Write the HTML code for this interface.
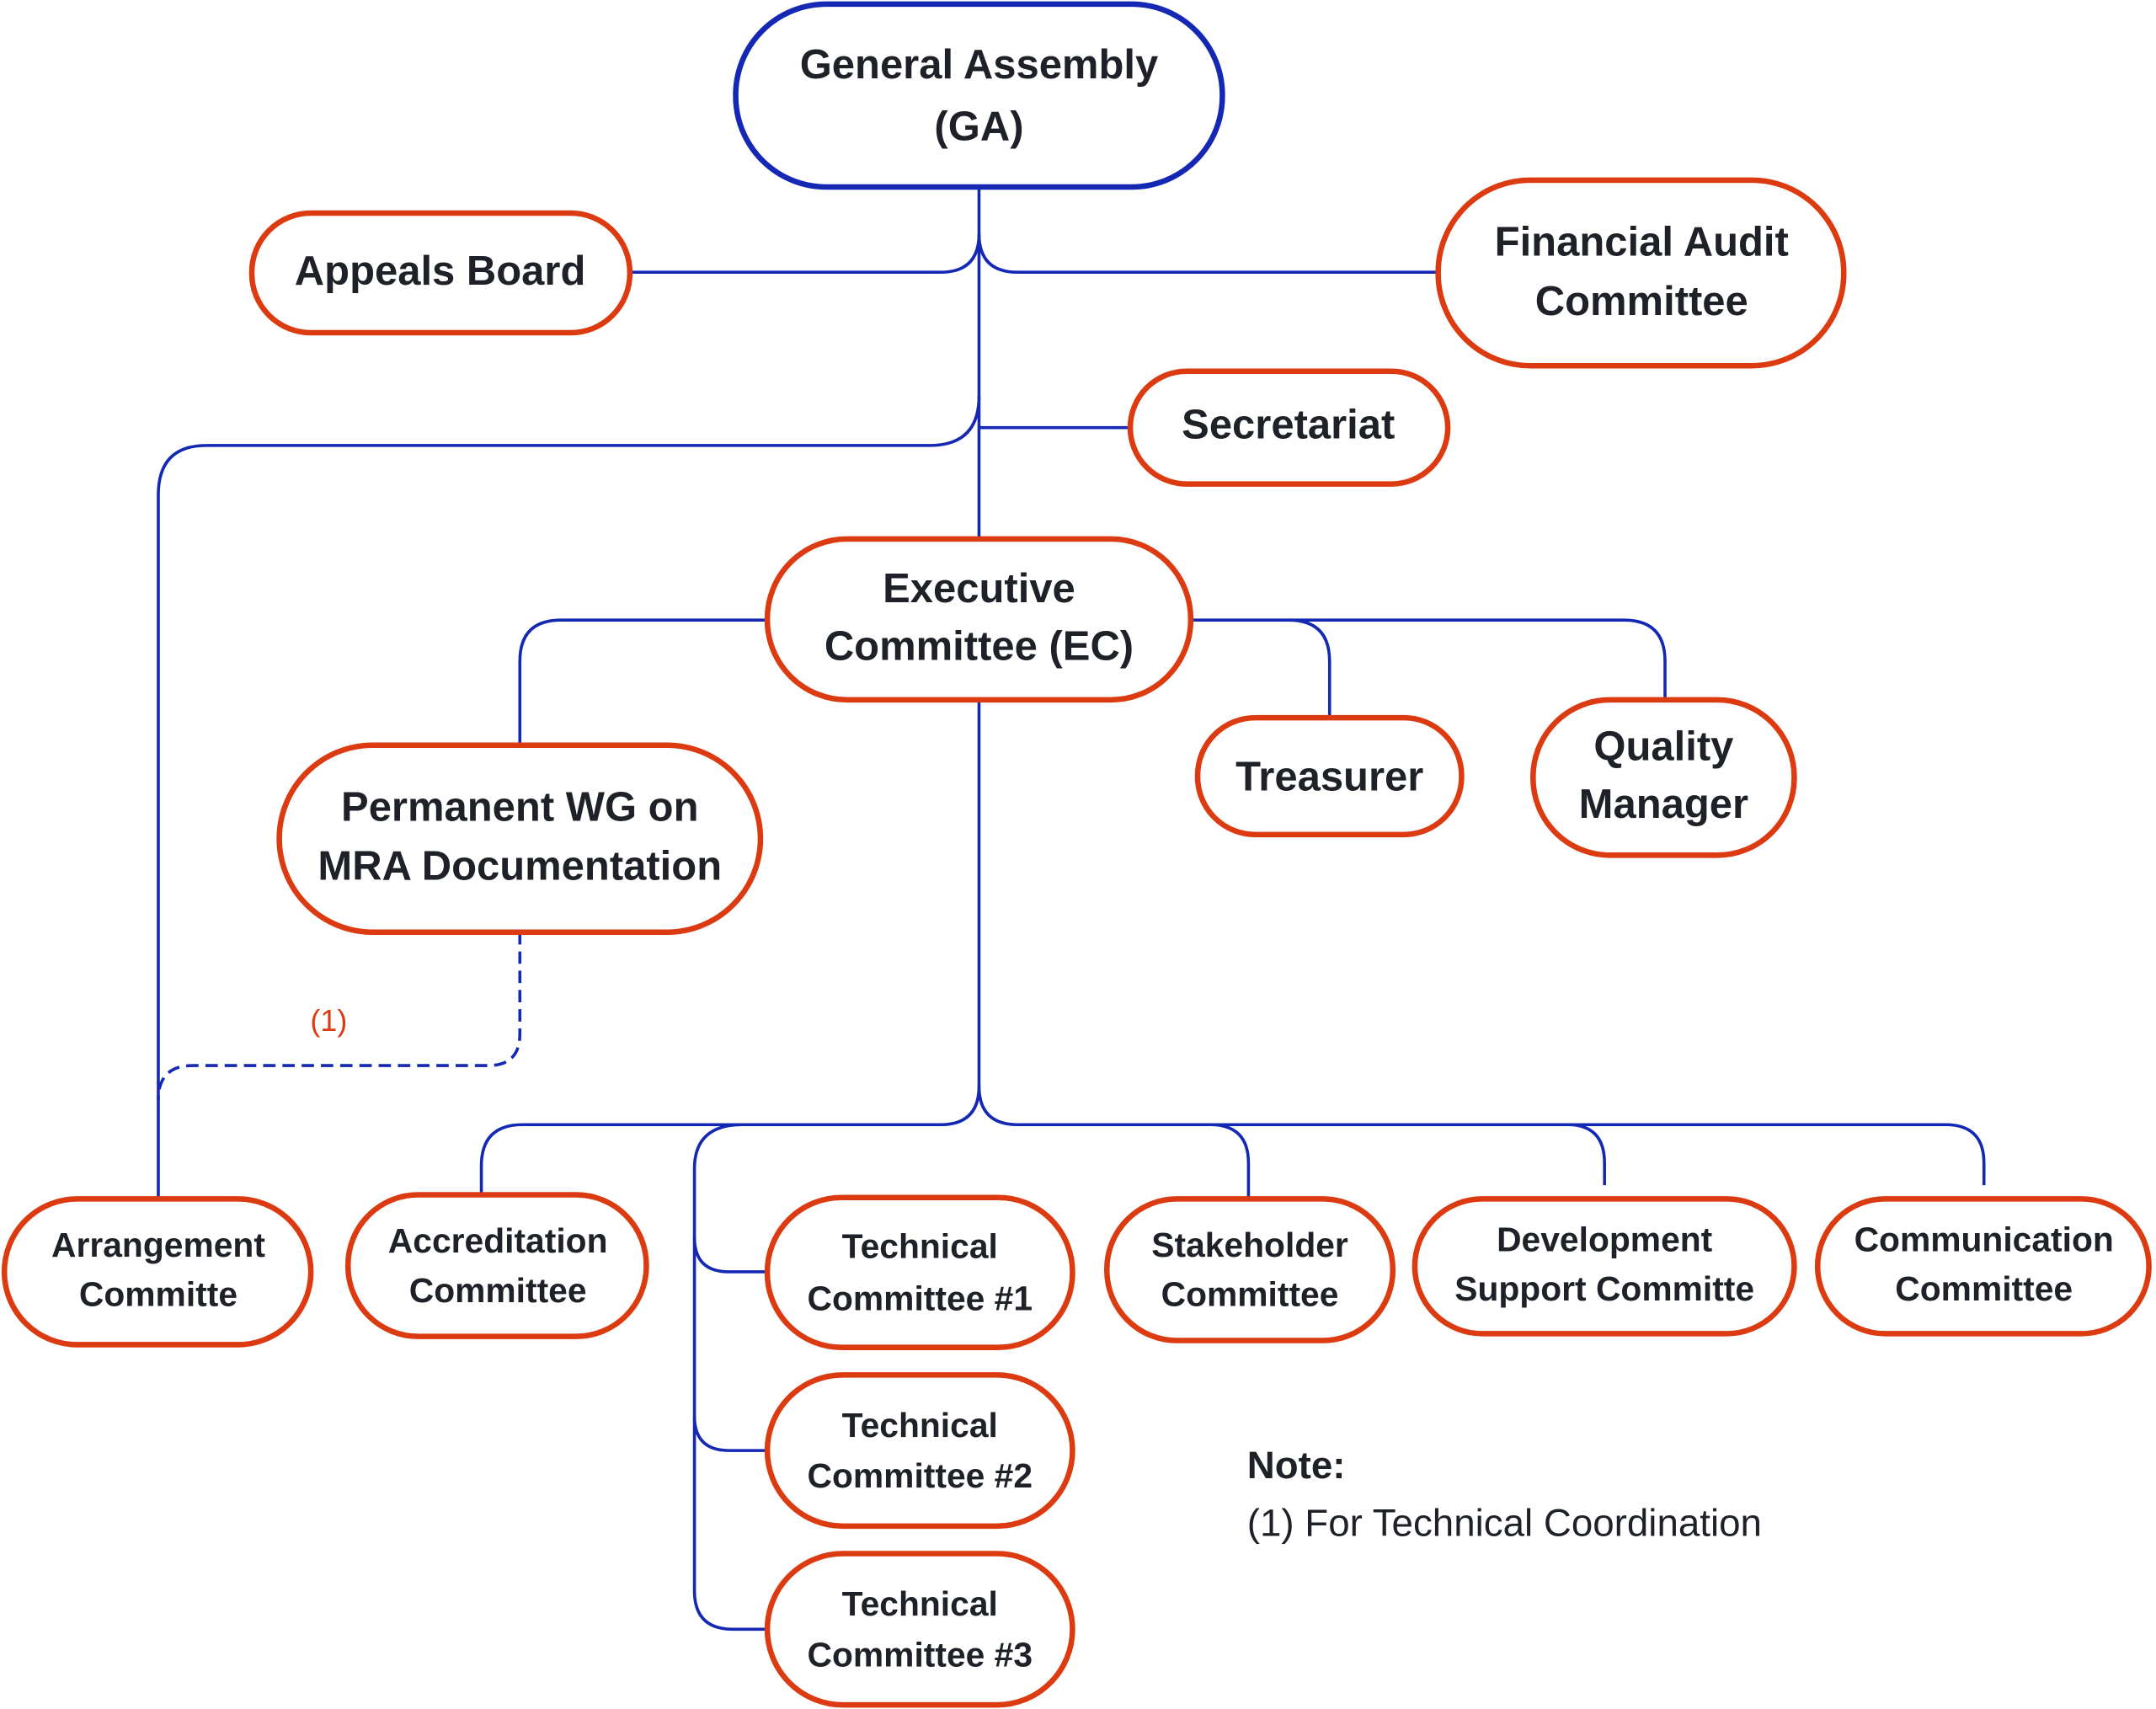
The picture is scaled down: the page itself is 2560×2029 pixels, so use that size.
<!DOCTYPE html>
<html><head><meta charset="utf-8"><style>
html,body{margin:0;padding:0;background:#fff;}
svg{display:block;}
text{font-family:"Liberation Sans",Arial,sans-serif;fill:#1e2228;text-anchor:middle;}
.b{font-weight:bold;}
</style></head><body>
<svg width="2560" height="2029" viewBox="0 0 1568 1243" xmlns="http://www.w3.org/2000/svg">
<g fill="none" stroke="#1428b4" stroke-width="2.2">
<path d="M712 136 V392"/>
<path d="M458 198 H684 Q712 198 712 170"/>
<path d="M712 170 Q712 198 740 198 H1046"/>
<path d="M712 311 H822"/>
<path d="M712 288 Q712 324 676 324 H150 Q115 324 115 360 V872"/>
<path d="M558 451 H408 Q378 451 378 481 V542"/>
<path d="M866 451 H937 Q967 451 967 481 V522"/>
<path d="M937 451 H1181 Q1211 451 1211 481 V509"/>
<path d="M712 509 V790 Q712 818 684 818 H380 Q350 818 350 848 V869"/>
<path d="M540 818 Q505 818 505 850 V1157 Q505 1185 533 1185 H558"/>
<path d="M505 900 Q505 925 530 925 H558"/>
<path d="M505 1030 Q505 1055 530 1055 H558"/>
<path d="M712 790 Q712 818 740 818 H880 Q908 818 908 846 V872"/>
<path d="M880 818 H1140 Q1167 818 1167 846 V862"/>
<path d="M1140 818 H1415 Q1443 818 1443 846 V862"/>
<path d="M378 678 V752 Q378 775 355 775 H140 Q115 775 115 800" stroke-dasharray="9 5"/>
</g>
<g fill="#fff" stroke="#dc3a10" stroke-width="4">
<rect x="535" y="3" width="354" height="133" rx="66" stroke="#1428b4"/>
<rect x="183" y="155" width="275" height="87" rx="43"/>
<rect x="1046" y="131" width="295" height="135" rx="67"/>
<rect x="822" y="270" width="231" height="82" rx="41"/>
<rect x="558" y="392" width="308" height="117" rx="58"/>
<rect x="203" y="542" width="350" height="136" rx="68"/>
<rect x="871" y="522" width="192" height="85" rx="42"/>
<rect x="1115" y="509" width="190" height="113" rx="56"/>
<rect x="3" y="872" width="223" height="106" rx="53"/>
<rect x="253" y="869" width="217" height="103" rx="51"/>
<rect x="558" y="871" width="222" height="109" rx="54"/>
<rect x="558" y="1000" width="222" height="110" rx="55"/>
<rect x="558" y="1130" width="222" height="110" rx="55"/>
<rect x="805" y="872" width="208" height="103" rx="51"/>
<rect x="1029" y="872" width="276" height="98" rx="49"/>
<rect x="1322" y="872" width="241" height="98" rx="49"/>
</g>
<g class="b" font-size="30">
<text x="712" y="57" class="b">General Assembly</text>
<text x="712" y="102" class="b">(GA)</text>
<text x="320" y="207" class="b">Appeals Board</text>
<text x="1194" y="186" class="b">Financial Audit</text>
<text x="1194" y="229" class="b">Committee</text>
<text x="937" y="319" class="b">Secretariat</text>
<text x="712" y="438" class="b">Executive</text>
<text x="712" y="480" class="b">Committee (EC)</text>
<text x="378" y="597" class="b">Permanent WG on</text>
<text x="378" y="640" class="b">MRA Documentation</text>
<text x="967" y="575" class="b">Treasurer</text>
<text x="1210" y="553" class="b">Quality</text>
<text x="1210" y="595" class="b">Manager</text>
</g>
<g font-size="25">
<text x="115" y="914" class="b">Arrangement</text>
<text x="115" y="950" class="b">Committe</text>
<text x="362" y="911" class="b">Accreditation</text>
<text x="362" y="947" class="b">Committee</text>
<text x="669" y="915" class="b">Technical</text>
<text x="669" y="953" class="b">Committee #1</text>
<text x="669" y="1045" class="b">Technical</text>
<text x="669" y="1082" class="b">Committee #2</text>
<text x="669" y="1175" class="b">Technical</text>
<text x="669" y="1212" class="b">Committee #3</text>
<text x="909" y="914" class="b">Stakeholder</text>
<text x="909" y="950" class="b">Committee</text>
<text x="1167" y="910" class="b">Development</text>
<text x="1167" y="946" class="b">Support Committe</text>
<text x="1443" y="910" class="b">Communication</text>
<text x="1443" y="946" class="b">Committee</text>
</g>
<text x="239" y="750" font-size="22" style="fill:#dc3a10">(1)</text>
<text x="907" y="1075" font-size="28" class="b" style="text-anchor:start">Note:</text>
<text x="907" y="1117" font-size="28" style="text-anchor:start">(1) For Technical Coordination</text>
</svg>
</body></html>
